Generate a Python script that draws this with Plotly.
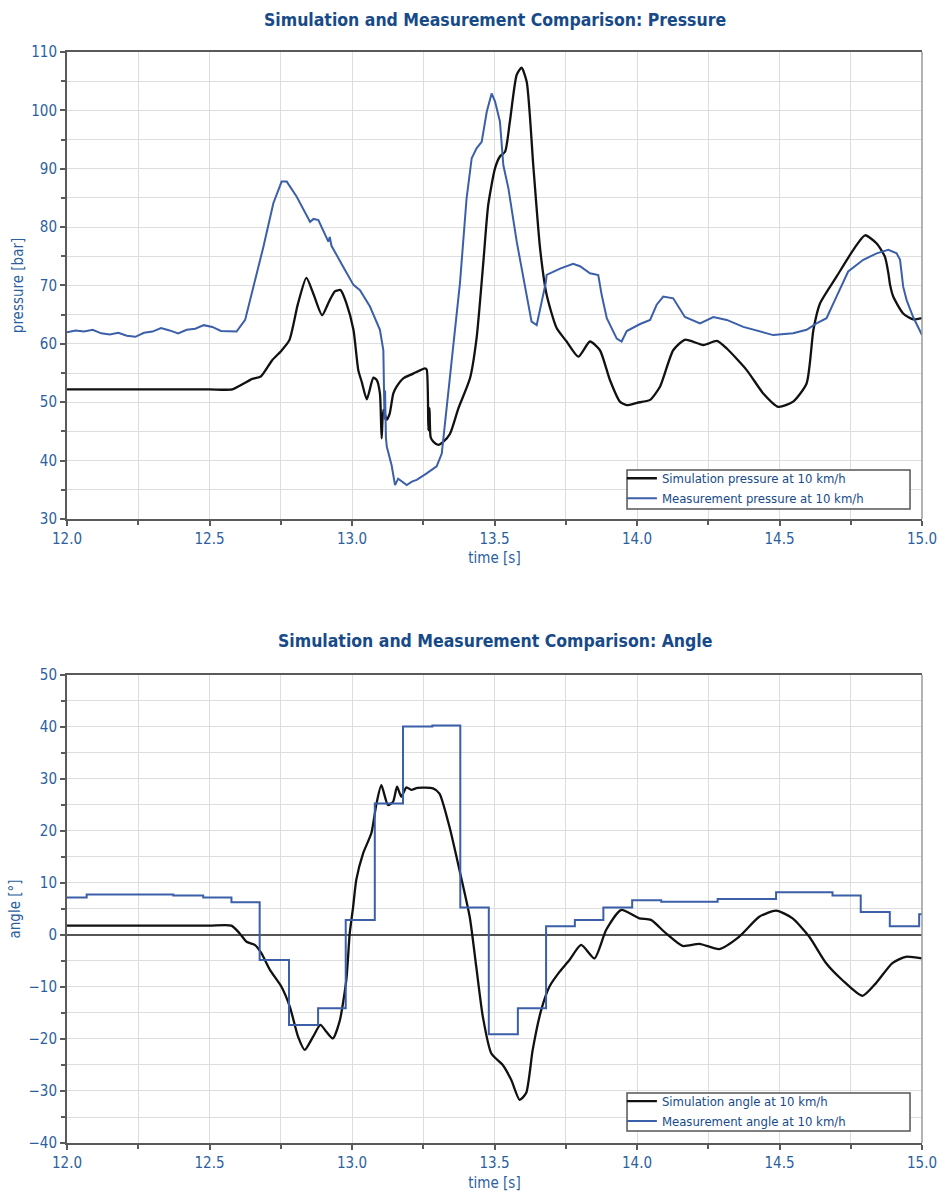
import plotly.graph_objects as go
from plotly.subplots import make_subplots

# ---------------- data ----------------
t_sim_p = [12.00, 12.30, 12.50, 12.58, 12.62, 12.65, 12.68, 12.72, 12.75, 12.78, 12.81, 12.84, 12.865, 12.895,
           12.92, 12.94, 12.96, 12.98, 13.005, 13.022, 13.034, 13.052, 13.075, 13.087, 13.098,
           13.104, 13.110, 13.122, 13.132, 13.145, 13.157, 13.18, 13.215, 13.256, 13.262, 13.268,
           13.272, 13.276, 13.286, 13.303, 13.32, 13.344, 13.373, 13.414, 13.437, 13.461, 13.478,
           13.502, 13.519, 13.537, 13.554, 13.578, 13.595, 13.613, 13.636, 13.66, 13.683, 13.718,
           13.753, 13.794, 13.835, 13.87, 13.905, 13.94, 13.964, 14.0, 14.046, 14.081, 14.127,
           14.168, 14.233, 14.28, 14.315, 14.385, 14.443, 14.496, 14.548, 14.595, 14.619, 14.642,
           14.70, 14.759, 14.80, 14.841, 14.87, 14.882, 14.888, 14.899, 14.934, 14.969, 15.0]
sim_pressure = [52.2, 52.2, 52.2, 52.2, 53.2, 54.0, 54.4, 57.2, 58.7, 60.6, 66.8, 71.3, 68.5, 64.9,
                67.3, 69.0, 69.2, 67.0, 62.4, 55.5, 53.5, 50.5, 54.2, 53.8, 51.5,
                43.8, 48.7, 47.0, 48.0, 51.5, 52.7, 54.1, 54.9, 55.8, 55.6, 45.2,
                49.0, 44.0, 43.2, 42.7, 43.2, 44.6, 48.9, 54.1, 60.9, 74.1, 83.8,
                90.1, 92.1, 92.9, 98.1, 106.1, 107.3, 104.9, 90.6, 76.3, 68.4, 62.7,
                60.4, 57.8, 60.4, 58.9, 53.8, 50.1, 49.5, 49.9, 50.4, 52.7, 58.9,
                60.7, 59.8, 60.5, 59.2, 55.5, 51.5, 49.2, 50.1, 53.2, 62.4, 66.9,
                71.5, 76.1, 78.6, 77.2, 74.9, 72.1, 70.1, 68.1, 65.2, 64.2, 64.4]

t_meas_p = [12.00, 12.03, 12.06, 12.09, 12.12, 12.15, 12.18, 12.21, 12.24, 12.27, 12.30, 12.33,
            12.36, 12.39, 12.42, 12.45, 12.48, 12.51, 12.54, 12.57, 12.595, 12.625, 12.654,
            12.689, 12.724, 12.753, 12.771, 12.806, 12.853, 12.865, 12.882, 12.917, 12.922,
            12.928, 12.969, 13.005, 13.028, 13.063, 13.098, 13.110, 13.114, 13.116, 13.119,
            13.122, 13.139, 13.151, 13.162, 13.174, 13.192, 13.21, 13.227, 13.262, 13.297,
            13.315, 13.332, 13.356, 13.379, 13.402, 13.42, 13.437, 13.455, 13.473, 13.49,
            13.502, 13.519, 13.531, 13.549, 13.578, 13.607, 13.63, 13.648, 13.671, 13.68,
            13.683, 13.70, 13.73, 13.776, 13.80, 13.835, 13.864, 13.876, 13.894, 13.929,
            13.946, 13.964, 14.011, 14.046, 14.069, 14.092, 14.127, 14.168, 14.221, 14.268,
            14.315, 14.373, 14.432, 14.478, 14.548, 14.595, 14.63, 14.665, 14.70, 14.741,
            14.794, 14.841, 14.882, 14.911, 14.923, 14.934, 14.946, 14.969, 15.0]
meas_pressure = [62.0, 62.3, 62.1, 62.4, 61.8, 61.6, 61.9, 61.4, 61.2, 61.9, 62.1, 62.7,
                 62.3, 61.8, 62.4, 62.6, 63.2, 62.9, 62.2, 62.1, 62.1, 64.1, 69.8,
                 76.6, 84.1, 87.8, 87.8, 85.2, 80.9, 81.4, 81.2, 77.5, 78.3,
                 76.8, 73.2, 70.1, 69.2, 66.4, 62.4, 58.9, 47.0, 52.0, 44.0,
                 42.4, 39.2, 35.8, 36.9, 36.5, 35.8, 36.4, 36.7, 37.8, 39.0,
                 41.2, 49.0, 59.2, 70.5, 84.9, 91.8, 93.5, 94.6, 99.8, 102.9,
                 101.5, 98.1, 90.6, 86.6, 77.5, 69.5, 63.8, 63.2, 68.4, 70.5,
                 71.8, 72.2, 72.9, 73.7, 73.3, 72.1, 71.8, 68.4, 64.4, 60.9,
                 60.4, 62.2, 63.4, 64.1, 66.7, 68.1, 67.8, 64.6, 63.5, 64.6,
                 64.1, 62.9, 62.1, 61.5, 61.8, 62.4, 63.5, 64.4, 68.1, 72.4,
                 74.4, 75.5, 76.1, 75.5, 74.4, 69.8, 67.5, 64.6, 61.5]

t_sim_a = [12.00, 12.30, 12.50, 12.577, 12.606, 12.630, 12.659, 12.682, 12.712, 12.752, 12.782, 12.811, 12.834,
           12.863, 12.889, 12.910, 12.933, 12.957, 12.98, 12.992, 13.004, 13.015, 13.039, 13.068,
           13.086, 13.103, 13.126, 13.144, 13.158, 13.173, 13.191, 13.208, 13.23, 13.284, 13.307,
           13.342, 13.377, 13.413, 13.436, 13.459, 13.489, 13.529, 13.559, 13.588, 13.611, 13.634,
           13.664, 13.693, 13.728, 13.763, 13.804, 13.851, 13.892, 13.944, 14.008, 14.049, 14.102,
           14.160, 14.219, 14.289, 14.359, 14.429, 14.488, 14.546, 14.604, 14.663, 14.721, 14.791,
           14.838, 14.896, 14.943, 15.0]
sim_angle = [1.8, 1.8, 1.8, 1.8, 0.3, -1.3, -1.9, -3.5, -6.7, -9.9, -13.8, -19.6, -22.1,
             -19.6, -17.3, -18.6, -19.9, -16.5, -8.7, 0.3, 5.4, 10.6, 15.7, 19.6,
             25.3, 28.8, 25.0, 25.6, 28.5, 26.6, 28.4, 27.9, 28.3, 28.2, 27.2,
             20.8, 12.5, 3.5, -6.1, -15.7, -22.8, -25.0, -27.9, -31.7, -30.4, -22.1,
             -14.4, -9.9, -7.1, -4.8, -1.9, -4.5, 1.0, 4.8, 3.2, 2.9, 0.3,
             -2.1, -1.7, -2.7, -0.3, 3.5, 4.7, 3.2, -0.3, -5.4, -8.7, -11.7,
             -9.3, -5.4, -4.2, -4.5]

t_meas_a = [12.0, 12.069, 12.373, 12.478, 12.577, 12.676, 12.779, 12.881, 12.978, 13.080, 13.179,
            13.282, 13.380, 13.480, 13.582, 13.681, 13.782, 13.882, 13.983, 14.085, 14.283, 14.488,
            14.686, 14.785, 14.887, 14.990, 15.0]
meas_angle = [7.2, 7.8, 7.6, 7.2, 6.3, -4.8, -17.3, -14.1, 2.9, 25.3, 40.1,
              40.3, 5.3, -19.1, -14.1, 1.7, 2.9, 5.3, 6.7, 6.4, 6.9, 8.2,
              7.6, 4.4, 1.7, 4.0, 4.0]

x_ticks = [12.0, 12.5, 13.0, 13.5, 14.0, 14.5, 15.0]

# ---------------- styles ----------------
FONT = "Liberation Sans Narrow, DejaVu Sans Condensed, Roboto Condensed, Arial Narrow, sans-serif"
TICK_BLUE = "#2c5f9e"
TITLE_BLUE = "#174a88"
BLACK = "#111111"
MEAS_BLUE = "#3b5fa8"
GRID = "#dedede"
AXIS = "#5a5a5a"

fig = make_subplots(rows=2, cols=1, vertical_spacing=0.143)

fig.add_trace(go.Scatter(x=t_sim_p, y=sim_pressure, mode="lines",
                         name="Simulation pressure at 10 km/h",
                         line=dict(color=BLACK, width=2.3, shape="spline", smoothing=0.6),
                         legend="legend"), row=1, col=1)
fig.add_trace(go.Scatter(x=t_meas_p, y=meas_pressure, mode="lines",
                         name="Measurement pressure at 10 km/h",
                         line=dict(color=MEAS_BLUE, width=2),
                         legend="legend"), row=1, col=1)
fig.add_trace(go.Scatter(x=t_sim_a, y=sim_angle, mode="lines",
                         name="Simulation angle at 10 km/h",
                         line=dict(color=BLACK, width=2.3, shape="spline", smoothing=0.6),
                         legend="legend2"), row=2, col=1)
fig.add_trace(go.Scatter(x=t_meas_a, y=meas_angle, mode="lines",
                         name="Measurement angle at 10 km/h",
                         line=dict(color=MEAS_BLUE, width=2, shape="hv"),
                         legend="legend2"), row=2, col=1)

xaxis_common = dict(
    range=[12.0, 15.0], tickvals=x_ticks, ticktext=[f"{v:.1f}" for v in x_ticks],
    showgrid=True, gridcolor=GRID, gridwidth=1,
    minor=dict(dtick=0.25, tick0=12.0, showgrid=True, gridcolor=GRID, gridwidth=1,
               ticks="outside", ticklen=4, tickcolor=AXIS),
    ticks="outside", ticklen=5, tickcolor=AXIS, tickwidth=1.5,
    showline=True, linecolor=AXIS, linewidth=2, mirror=True,
    zeroline=False, automargin=False,
    tickfont=dict(family=FONT, size=15, color=TICK_BLUE),
    title=dict(text="time [s]", font=dict(family=FONT, size=15, color=TICK_BLUE), standoff=6),
)

fig.update_xaxes(**xaxis_common, row=1, col=1)
fig.update_xaxes(**xaxis_common, row=2, col=1)

yaxis_common = dict(
    showgrid=True, gridcolor=GRID, gridwidth=1,
    ticks="outside", ticklen=5, tickcolor=AXIS, tickwidth=1.5,
    showline=True, linecolor=AXIS, linewidth=2, mirror=False, automargin=False,
    tickfont=dict(family=FONT, size=15, color=TICK_BLUE),
)
fig.update_yaxes(**yaxis_common, range=[30, 110], dtick=10,
                 minor=dict(dtick=5, showgrid=True, gridcolor=GRID, ticks="outside",
                            ticklen=4, tickcolor=AXIS),
                 zeroline=False,
                 title=dict(text="pressure [bar]", font=dict(family=FONT, size=15, color=TICK_BLUE),
                            standoff=4),
                 row=1, col=1)
fig.update_yaxes(**yaxis_common, range=[-40, 50], dtick=10,
                 minor=dict(dtick=5, showgrid=True, gridcolor=GRID, ticks="outside",
                            ticklen=4, tickcolor=AXIS),
                 zeroline=True, zerolinecolor="#555555", zerolinewidth=1.5,
                 title=dict(text="angle [°]", font=dict(family=FONT, size=15, color=TICK_BLUE),
                            standoff=4),
                 row=2, col=1)

# right border lines (lighter)
for ax in ["x", "x2"]:
    yref = "y domain" if ax == "x" else "y2 domain"
    fig.add_shape(type="line", xref=f"{ax} domain", yref=yref, x0=1, x1=1, y0=0, y1=1,
                  line=dict(color="#9a9a9a", width=1.5))

# legend frames (drawn as shapes so the box can be wider than the text)
for (y0, y1) in [(0.5811, 0.6169), (0.0110, 0.0458)]:
    fig.add_shape(type="rect", xref="paper", yref="paper", x0=0.655, x1=0.986, y0=y0, y1=y1,
                  fillcolor="white", line=dict(color="#555555", width=1.5), layer="above")

legend_style = dict(
    bgcolor="rgba(0,0,0,0)", borderwidth=0,
    font=dict(family=FONT, size=13, color=TITLE_BLUE),
    xanchor="left", yanchor="top", tracegroupgap=0,
    itemwidth=30,
)
fig.update_layout(
    width=950, height=1193,
    margin=dict(l=67, r=28, t=52, b=50, autoexpand=False),
    plot_bgcolor="white", paper_bgcolor="white",
    legend=dict(**legend_style, x=0.649, y=0.623),
    legend2=dict(**legend_style, x=0.649, y=0.052),
    annotations=[
        dict(text="<b>Simulation and Measurement Comparison: Pressure</b>",
             xref="paper", yref="paper", x=0.5, y=1.029, xanchor="center", yanchor="middle",
             showarrow=False, font=dict(family=FONT, size=17.5, color=TITLE_BLUE)),
        dict(text="<b>Simulation and Measurement Comparison: Angle</b>",
             xref="paper", yref="paper", x=0.5, y=0.460, xanchor="center", yanchor="middle",
             showarrow=False, font=dict(family=FONT, size=17.5, color=TITLE_BLUE)),
    ],
)

# subplot domains
fig.update_layout(yaxis=dict(domain=[0.572, 1.0]), yaxis2=dict(domain=[0.0, 0.429]))

fig.write_html("out.html", config={"displayModeBar": False},
               post_script="document.body.style.margin='0px';document.documentElement.style.overflow='hidden';")
